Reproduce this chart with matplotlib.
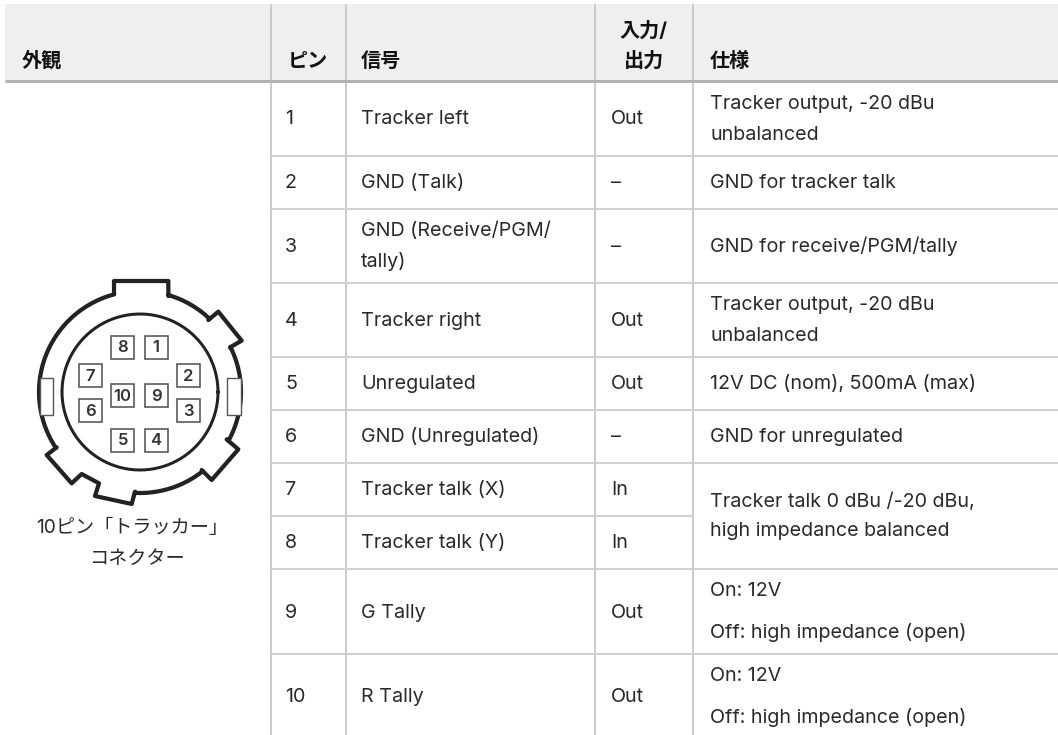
import numpy as np
from matplotlib import pyplot as plt
from matplotlib.patches import Rectangle, Polygon

plt.rcParams['font.family'] = ['Inter', 'Noto Sans CJK JP', 'DejaVu Sans']

# table content
headers = ['外観', 'ピン', '信号', '仕様']
header_io = ['入力/', '出力']
pins = ['1', '2', '3', '4', '5', '6', '7', '8', '9', '10']
signals = ['Tracker left', 'GND (Talk)', 'GND (Receive/PGM/\ntally)', 'Tracker right', 'Unregulated',
           'GND (Unregulated)', 'Tracker talk (X)', 'Tracker talk (Y)', 'G Tally', 'R Tally']
directions = ['Out', '–', '–', 'Out', 'Out', '–', 'In', 'In', 'Out', 'Out']
specs = ['Tracker output, -20 dBu\nunbalanced', 'GND for tracker talk', 'GND for receive/PGM/tally',
         'Tracker output, -20 dBu\nunbalanced', '12V DC (nom), 500mA (max)', 'GND for unregulated',
         'Tracker talk 0 dBu /-20 dBu,\nhigh impedance balanced', None,
         'On: 12V\nOff: high impedance (open)', 'On: 12V\nOff: high impedance (open)']
caption = ['10ピン「トラッカー」', 'コネクター']
connector_labels = ['8', '1', '7', '2', '10', '9', '6', '3', '5', '4']

# layout in pixels
W, H = 1058, 735
col_x = [270.5, 346, 595, 692.5]
row_y = [81, 156, 209, 283, 357, 410, 463, 516, 569, 654, 735]
TXT = '#2a2a2a'
FS = 14.2
FS_CAP = 13.8
FS_HEAD = 14.5

fig = plt.figure(figsize=(W / 100, H / 100), dpi=100)
ax = fig.add_axes([0, 0, 1, 1])
ax.set_xlim(0, W)
ax.set_ylim(H, 0)
ax.axis('off')


def px(v):
    return v * 0.72


def put_lines(x, yc, txt, gap=31, **kw):
    parts = txt.split('\n')
    for i, p in enumerate(parts):
        y = yc + (i - (len(parts) - 1) / 2) * gap
        ax.text(x, y + 6.5, p, fontsize=FS, color=TXT, va='baseline', **kw)


# header
ax.add_patch(Rectangle((5, 4), W - 5, 77, fc='#efefef', ec='none'))
for x, lab in zip([22, 288, 361, 710], headers):
    ax.text(x, 67, lab, fontsize=FS_HEAD, fontweight='bold', color='#111111', va='baseline')
ax.text(644, 37, header_io[0], fontsize=FS_HEAD, fontweight='bold', color='#111111', ha='center', va='baseline')
ax.text(644, 67, header_io[1], fontsize=FS_HEAD, fontweight='bold', color='#111111', ha='center', va='baseline')

# grid lines
for x in col_x:
    ax.plot([x, x], [4, H], color='#c6c6c6', lw=px(1.8), solid_capstyle='butt')
for i, y in enumerate(row_y[1:-1]):
    x_end = col_x[3] if i == 6 else W
    ax.plot([col_x[0], x_end], [y, y], color='#d0d0d0', lw=px(2), solid_capstyle='butt')
ax.plot([5, W], [81, 81], color='#b2b2b2', lw=px(3), solid_capstyle='butt')

# rows
for i in range(len(pins)):
    yc = (row_y[i] + row_y[i + 1]) / 2 - 1
    if i >= 8:
        yc = (row_y[i] + row_y[i + 1]) / 2
    if i == 9:
        yc = 696
    put_lines(285, yc, pins[i])
    put_lines(361, yc, signals[i])
    put_lines(611, yc, directions[i])
    if specs[i] is None:
        continue
    if i == 6:
        put_lines(710, 515, specs[i], gap=30)
    elif i >= 8:
        put_lines(710, yc - 1 if i == 8 else 695.5, specs[i], gap=42.5)
    else:
        put_lines(710, yc, specs[i])

# connector, traced in pixels
cx, cy, r_out, r_in = 140, 392, 101, 78


def arc(p0, p1):
    a0 = np.arctan2(p0[1] / 3 + 250 - cy, p0[0] / 3 - cx)
    a1 = np.arctan2(p1[1] / 3 + 250 - cy, p1[0] / 3 - cx)
    if a1 < a0:
        a1 += 2 * np.pi
    t = np.linspace(a0, a1, 40)
    return np.column_stack([cx + r_out * np.cos(t), cy + r_out * np.sin(t)])


def z(pts):
    return np.array([[a / 3, b / 3 + 250] for a, b in pts])


outline = np.vstack([
    z([(342, 130), (342, 93), (505, 93), (505, 138)]), arc((505, 138), (625, 210)),
    z([(625, 210), (655, 185), (725, 272), (690, 292)]), arc((690, 292), (680, 568)),
    z([(680, 568), (715, 598), (635, 690), (605, 660)]), arc((605, 660), (405, 725)),
    z([(405, 725), (395, 762), (285, 738), (297, 700), (245, 672), (215, 700), (140, 615), (170, 592)]),
    arc((170, 592), (342, 130)),
])
ax.add_patch(Polygon(outline, closed=True, fc='none', ec='#222222', lw=px(4.2), joinstyle='round'))
t = np.linspace(0, 2 * np.pi, 200)
ax.plot(cx + r_in * np.cos(t), cy + r_in * np.sin(t), color='#222222', lw=px(3))

for x0 in [39.5, 227]:
    ax.add_patch(Rectangle((x0, 378), 13.5, 37, fc='white', ec='#555555', lw=px(1.4), zorder=3))

box_cx = [368, 468, 270, 566, 368, 468, 270, 566, 368, 468]
box_cy = [292, 292, 377, 377, 437, 437, 482, 482, 571, 571]
for lab, bx, by in zip(connector_labels, box_cx, box_cy):
    x0, y0 = bx / 3, by / 3 + 250
    ax.add_patch(Rectangle((x0 - 11.5, y0 - 11.5), 23, 23, fc='white', ec='#555555', lw=px(1.6)))
    ax.text(x0, y0 + 0.5, lab, fontsize=12, fontweight='semibold', color='#333333', ha='center', va='center')

ax.text(132, 533, caption[0], fontsize=FS_CAP, color=TXT, ha='center', va='baseline')
ax.text(138, 564, caption[1], fontsize=FS_CAP, color=TXT, ha='center', va='baseline')

fig.savefig('out.png', dpi=100, facecolor='white')
